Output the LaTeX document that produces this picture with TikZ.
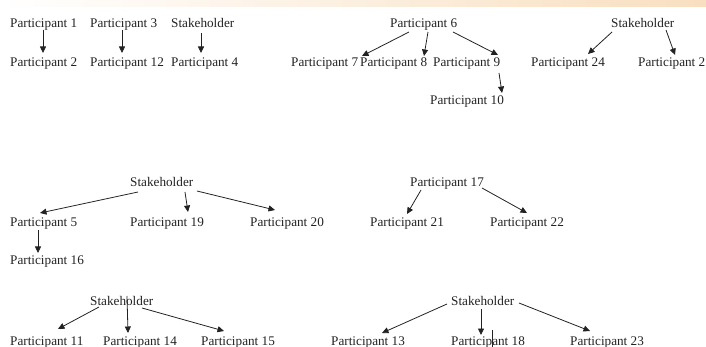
\documentclass[tikz,border=0pt]{standalone}
\usepackage{fontspec}
\setmainfont{Liberation Serif}
\usetikzlibrary{arrows.meta,calc}
\definecolor{txt}{HTML}{222222}
\definecolor{peach}{HTML}{F8DFC0}
\tikzset{
  lbl/.style={anchor=west,inner sep=0pt,text height=11pt,text depth=1pt,font=\fontsize{13.2}{15}\selectfont,text=txt},
  arr/.style={draw=txt,line width=0.8pt,-{Triangle[length=6.5pt,width=6pt]}}
}
\begin{document}
\begin{tikzpicture}[x=1pt,y=-1pt]
\useasboundingbox (0,0) rectangle (706,347);
\shade[left color=white,right color=peach] (0,0) rectangle (706,6.5);
% group 1
\node[lbl] (p1) at (10,23) {Participant 1};
\node[lbl] (p3) at (90,23) {Participant 3};
\node[lbl] (sA) at (171,23) {Stakeholder};
\node[lbl] (p2) at (10,62) {Participant 2};
\node[lbl] (p12) at (90,62) {Participant 12};
\node[lbl] (p4) at (171,62) {Participant 4};
% group 2
\node[lbl] (p6) at (390,23) {Participant 6};
\node[lbl] (p7) at (291,62) {Participant 7};
\node[lbl] (p8) at (360,62) {Participant 8};
\node[lbl] (p9) at (433,62) {Participant 9};
\node[lbl] (p10) at (430,100) {Participant 10};
% group 3
\node[lbl] (sB) at (611,23) {Stakeholder};
\node[lbl] (p24) at (531,62) {Participant 24};
\node[lbl] (p25) at (638,62) {Participant 2};
% group 4
\node[lbl] (sC) at (130,182) {Stakeholder};
\node[lbl] (p5) at (10,221) {Participant 5};
\node[lbl] (p19) at (130,221) {Participant 19};
\node[lbl] (p20) at (250,221) {Participant 20};
\node[lbl] (p16) at (10,259) {Participant 16};
% group 5
\node[lbl] (p17) at (410,182) {Participant 17};
\node[lbl] (p21) at (370,221) {Participant 21};
\node[lbl] (p22) at (490,221) {Participant 22};
% group 6
\node[lbl] (sD) at (90,300) {Stakeholder};
\node[lbl] (p11) at (10,340) {Participant 11};
\node[lbl] (p14) at (103,340) {Participant 14};
\node[lbl] (p15) at (201,340) {Participant 15};
% group 7
\node[lbl] (sE) at (451,300) {Stakeholder};
\node[lbl] (p13) at (331,340) {Participant 13};
\node[lbl] (p18) at (451,340) {Participant 18};
\node[lbl] (p23) at (570,340) {Participant 23};
% arrows
\draw[arr] ($(p1.west)+(33,7)$) -- ($(p2.west)+(33,-9)$);
\draw[arr] ($(p3.west)+(32,7)$) -- ($(p12.west)+(32,-9)$);
\draw[arr] ($(sA.west)+(30,10)$) -- ($(p4.west)+(30,-9)$);
\draw[arr] ($(p6.west)+(19,9)$) -- ($(p7.west)+(71,-6)$);
\draw[arr] ($(p6.west)+(38,9)$) -- ($(p8.west)+(64,-6)$);
\draw[arr] ($(p6.west)+(63,9)$) -- ($(p9.west)+(65,-7)$);
\draw[arr] ($(p9.west)+(66,11)$) -- ($(p10.west)+(72,-7)$);
\draw[arr] ($(sB.west)+(1,9)$) -- ($(p24.west)+(57,-8)$);
\draw[arr] ($(sB.west)+(55,7)$) -- ($(p25.west)+(37,-7)$);
\draw[arr] ($(sC.west)+(8,10)$) -- ($(p5.west)+(30,-8)$);
\draw[arr] ($(sC.west)+(55,10)$) -- ($(p19.west)+(58,-9)$);
\draw[arr] ($(sC.west)+(67,9)$) -- ($(p20.west)+(25,-11)$);
\draw[arr] ($(p5.west)+(28,9)$) -- ($(p16.west)+(28,-6)$);
\draw[arr] ($(p17.west)+(11,8)$) -- ($(p21.west)+(37,-7)$);
\draw[arr] ($(p17.west)+(72,6)$) -- ($(p22.west)+(37,-8)$);
\draw[arr] ($(sD.west)+(9,7)$) -- ($(p11.west)+(48,-11)$);
\draw[arr] ($(sD.west)+(37,-4)$) -- ($(p14.west)+(25,-7)$);
\draw[arr] ($(sD.west)+(52,8)$) -- ($(p15.west)+(23,-9)$);
\draw[arr] ($(sE.west)+(-4,4)$) -- ($(p13.west)+(51,-7)$);
\draw[arr] ($(sE.west)+(30,9)$) -- ($(p18.west)+(30,-5)$);
\draw[arr] ($(sE.west)+(68,3)$) -- ($(p23.west)+(20,-9)$);
\draw[txt,line width=0.5pt] ($(p18.west)+(41,-10)$) -- ($(p18.west)+(41,7)$);
\end{tikzpicture}
\end{document}
